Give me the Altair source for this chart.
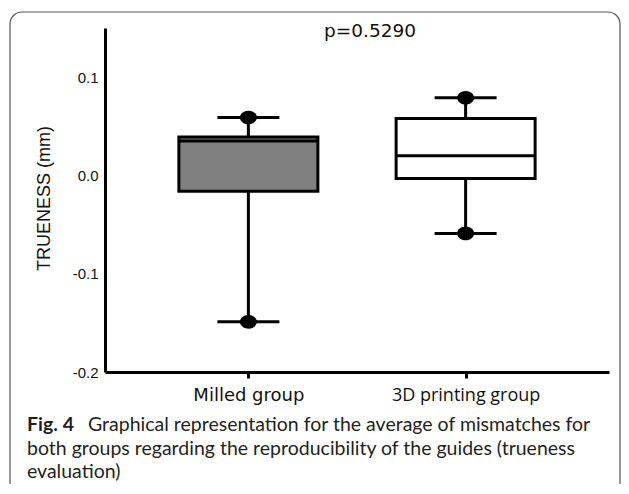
import altair as alt
import pandas as pd

# ---- data ----
groups = ["Milled group", "3D printing group"]
minimum = [-0.149, -0.059]
q1 = [-0.016, -0.003]
median = [0.035, 0.020]
q3 = [0.039, 0.058]
maximum = [0.059, 0.079]
fills = ["#808080", "#ffffff"]

y_ticks = [-0.2, -0.1, 0.0, 0.1]
y_domain = [-0.2, 0.15]
y_title = "TRUENESS (mm)"
p_label = ["p=0.5290"]
caption_bold = ["Fig. 4"]
caption_lines = [
    "Graphical representation for the average of mismatches for",
    "both groups regarding the reproducibility of the guides (trueness",
    "evaluation)",
]

df = pd.DataFrame({
    "group": groups, "minimum": minimum, "q1": q1, "median": median,
    "q3": q3, "maximum": maximum,
})

ellipse = "M-1,0A1,0.8,0,1,0,1,0A1,0.8,0,1,0,-1,0Z"

x_enc = alt.X(
    "group:N", sort=groups,
    scale=alt.Scale(type="point", padding=0.66),
    axis=alt.Axis(
        title=None, grid=False, labelAngle=0,
        domainColor="black", domainWidth=3,
        tickColor="black", tickWidth=3, tickSize=6,
        labelBaseline="alphabetic", labelPadding=22, labelColor="#111111",
        labelFont=alt.condition("datum.value == 'Milled group'",
                                alt.value("DejaVu Sans"), alt.value("Open Sans")),
        labelFontSize=alt.condition("datum.value == 'Milled group'",
                                    alt.value(18), alt.value(18)),
    ),
)
y_scale = alt.Scale(domain=y_domain, nice=False, zero=False)
y_axis = alt.Axis(
    values=y_ticks, grid=False, ticks=False, tickSize=0,
    labelExpr="datum.value == 0 ? '0.0' : (datum.value < 0 ? '-' + format(-datum.value, '.1f') : format(datum.value, '.1f'))",
    domainColor="black", domainWidth=3,
    labelFont="Liberation Sans", labelFontSize=15, labelColor="#111111", labelPadding=7,
    title=y_title, titleFont="Liberation Sans", titleFontSize=18,
    titleFontWeight="normal", titleColor="#111111",
    titleX=-56, titleY=170, titleBaseline="alphabetic",
)

base = alt.Chart(df)

whisk_lo = base.mark_rule(color="black", strokeWidth=3).encode(
    x=x_enc, y=alt.Y("minimum:Q", scale=y_scale, axis=y_axis), y2="q1:Q")
whisk_hi = base.mark_rule(color="black", strokeWidth=3).encode(
    x=x_enc, y=alt.Y("q3:Q", scale=y_scale), y2="maximum:Q")
box = base.mark_bar(size=139, stroke="black", strokeWidth=3, opacity=1).encode(
    x=x_enc, y=alt.Y("q1:Q", scale=y_scale), y2="q3:Q",
    fill=alt.Fill("group:N", scale=alt.Scale(domain=groups, range=fills), legend=None))
med = base.mark_tick(size=139, thickness=3, color="black", opacity=1).encode(
    x=x_enc, y=alt.Y("median:Q", scale=y_scale))
cap_lo = base.mark_tick(size=62, thickness=3, color="black", opacity=1).encode(
    x=x_enc, y=alt.Y("minimum:Q", scale=y_scale))
cap_hi = base.mark_tick(size=62, thickness=3, color="black", opacity=1).encode(
    x=x_enc, y=alt.Y("maximum:Q", scale=y_scale))
dots = base.transform_fold(["minimum", "maximum"], as_=["k", "v"]).mark_point(
    shape=ellipse, filled=True, size=289, color="black", opacity=1).encode(
    x=x_enc, y=alt.Y("v:Q", scale=y_scale))

one = pd.DataFrame({"a": [0]})
p_text = alt.Chart(one).mark_text(
    text=p_label[0], font="DejaVu Sans", fontSize=18.5, color="#111111",
    align="center", baseline="alphabetic").encode(x=alt.value(265), y=alt.value(9))

cap_font = "Lato"
cap_size = 19.5
cap_color = "#231f20"
cap_b = alt.Chart(one).mark_text(
    text=caption_bold[0], font=cap_font, fontSize=cap_size, fontWeight="bold", color=cap_color,
    align="left", baseline="alphabetic").encode(x=alt.value(-78), y=alt.value(403))
cap_1 = alt.Chart(one).mark_text(
    text=caption_lines[0], font=cap_font, fontSize=cap_size, color=cap_color,
    align="left", baseline="alphabetic").encode(x=alt.value(-17), y=alt.value(403))
cap_2 = alt.Chart(one).mark_text(
    text=caption_lines[1], font=cap_font, fontSize=cap_size, color=cap_color,
    align="left", baseline="alphabetic").encode(x=alt.value(-78), y=alt.value(426.5))
cap_3 = alt.Chart(one).mark_text(
    text=caption_lines[2], font=cap_font, fontSize=cap_size, color=cap_color,
    align="left", baseline="alphabetic").encode(x=alt.value(-78), y=alt.value(450))

frame = alt.Chart(one).mark_rect(
    fill=None, stroke="#555555", strokeWidth=1.2, cornerRadius=12).encode(
    x=alt.value(-95), x2=alt.value(515), y=alt.value(-16), y2=alt.value(470))

chart = alt.layer(
    frame, whisk_lo, whisk_hi, box, med, cap_lo, cap_hi, dots,
    p_text, cap_b, cap_1, cap_2, cap_3,
).properties(
    width=504, height=344,
    background="white",
    autosize=alt.AutoSizeParams(type="none"),
    padding={"left": 97, "top": 20, "right": 12, "bottom": 112},
).configure_view(strokeWidth=0, stroke=None)

chart.save("out.html", embed_options={"renderer": "svg", "actions": False})
